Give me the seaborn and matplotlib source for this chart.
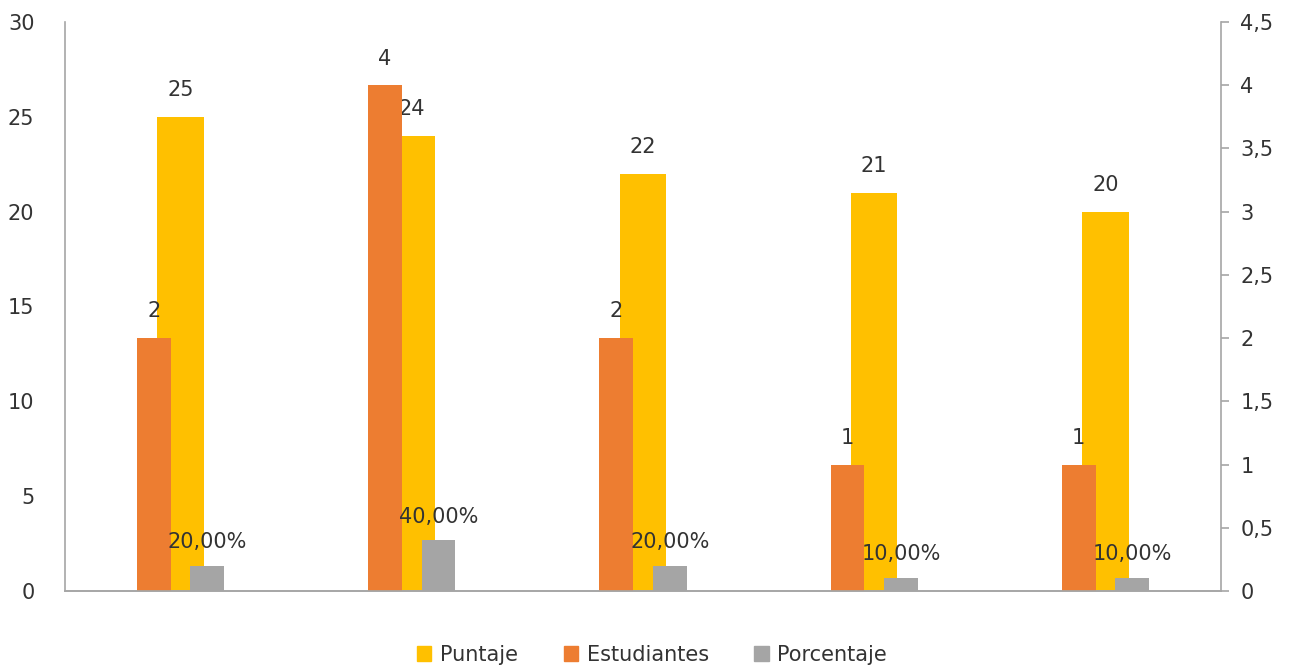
import pandas as pd
import matplotlib.pyplot as plt
import seaborn as sns
from matplotlib.patches import Patch

# data
grupos = ["1", "2", "3", "4", "5"]
puntaje = [25, 24, 22, 21, 20]
estudiantes = [2, 4, 2, 1, 1]
porcentaje = [0.20, 0.40, 0.20, 0.10, 0.10]
ticks_der = [0, 0.5, 1, 1.5, 2, 2.5, 3, 3.5, 4, 4.5]

amarillo = "#FFC000"
naranja = "#ED7D31"
gris = "#A5A5A5"
texto = "#333333"
linea = "#A6A6A6"

sns.set_theme(style="white")
plt.rcParams["font.family"] = ["DejaVu Sans"]
plt.rcParams["font.size"] = 15

fig = plt.figure(figsize=(12.91, 6.70), dpi=100)
ax1 = fig.add_axes([65 / 1291, 1 - 591 / 670, (1221 - 65) / 1291, (591 - 22) / 670])

# primary axis: Puntaje
sns.barplot(x=grupos, y=puntaje, color=amarillo, width=0.2, saturation=1,
            linewidth=0, ax=ax1)
ax1.set_ylim(0, 30)
ax1.set_yticks([0, 5, 10, 15, 20, 25, 30])

# secondary axis: Estudiantes and Porcentaje
ax2 = ax1.twinx()
df2 = pd.DataFrame({
    "Grupo": grupos * 2,
    "Valor": estudiantes + porcentaje,
    "Serie": ["Estudiantes"] * 5 + ["Porcentaje"] * 5,
})
sns.barplot(data=df2, x="Grupo", y="Valor", hue="Serie", palette=[naranja, gris],
            width=0.462, gap=0.364, saturation=1, linewidth=0, legend=False, ax=ax2)
ax2.set_ylim(0, 4.5)
ax2.set_yticks(ticks_der)
ax2.set_yticklabels([f"{t:g}".replace(".", ",") for t in ticks_der])
ax1.set_xlim(-0.5, 4.5)

# data labels
ax1.bar_label(ax1.containers[0], labels=[str(v) for v in puntaje], padding=12,
              fontsize=15, color=texto)
ax2.bar_label(ax2.containers[0], labels=[str(v) for v in estudiantes], padding=12,
              fontsize=15, color=texto)
ax2.bar_label(ax2.containers[1], labels=[f"{v * 100:.2f}%".replace(".", ",") for v in porcentaje],
              padding=10, fontsize=15, color=texto)

for ax in (ax1, ax2):
    ax.set_xlabel("")
    ax.set_ylabel("")
    ax.set_xticks([])
    ax.spines["top"].set_visible(False)
    for s in ("left", "right", "bottom"):
        ax.spines[s].set_color(linea)
        ax.spines[s].set_linewidth(1.2)

ax1.spines["right"].set_visible(False)
ax2.spines["left"].set_visible(False)
ax1.tick_params(axis="y", length=0, pad=22, labelcolor=texto, labelsize=15)
ax2.tick_params(axis="y", length=6, width=1.2, color=linea, pad=8, labelcolor=texto, labelsize=15)

handles = [Patch(color=amarillo, label="Puntaje"),
           Patch(color=naranja, label="Estudiantes"),
           Patch(color=gris, label="Porcentaje")]
fig.legend(handles=handles, loc="center", bbox_to_anchor=(652 / 1291, 1 - 655 / 670), ncol=3,
           frameon=False, handlelength=0.7, handleheight=0.7, handletextpad=0.4,
           columnspacing=2.2, fontsize=15, labelcolor=texto)

fig.savefig("out.png", dpi=100)
